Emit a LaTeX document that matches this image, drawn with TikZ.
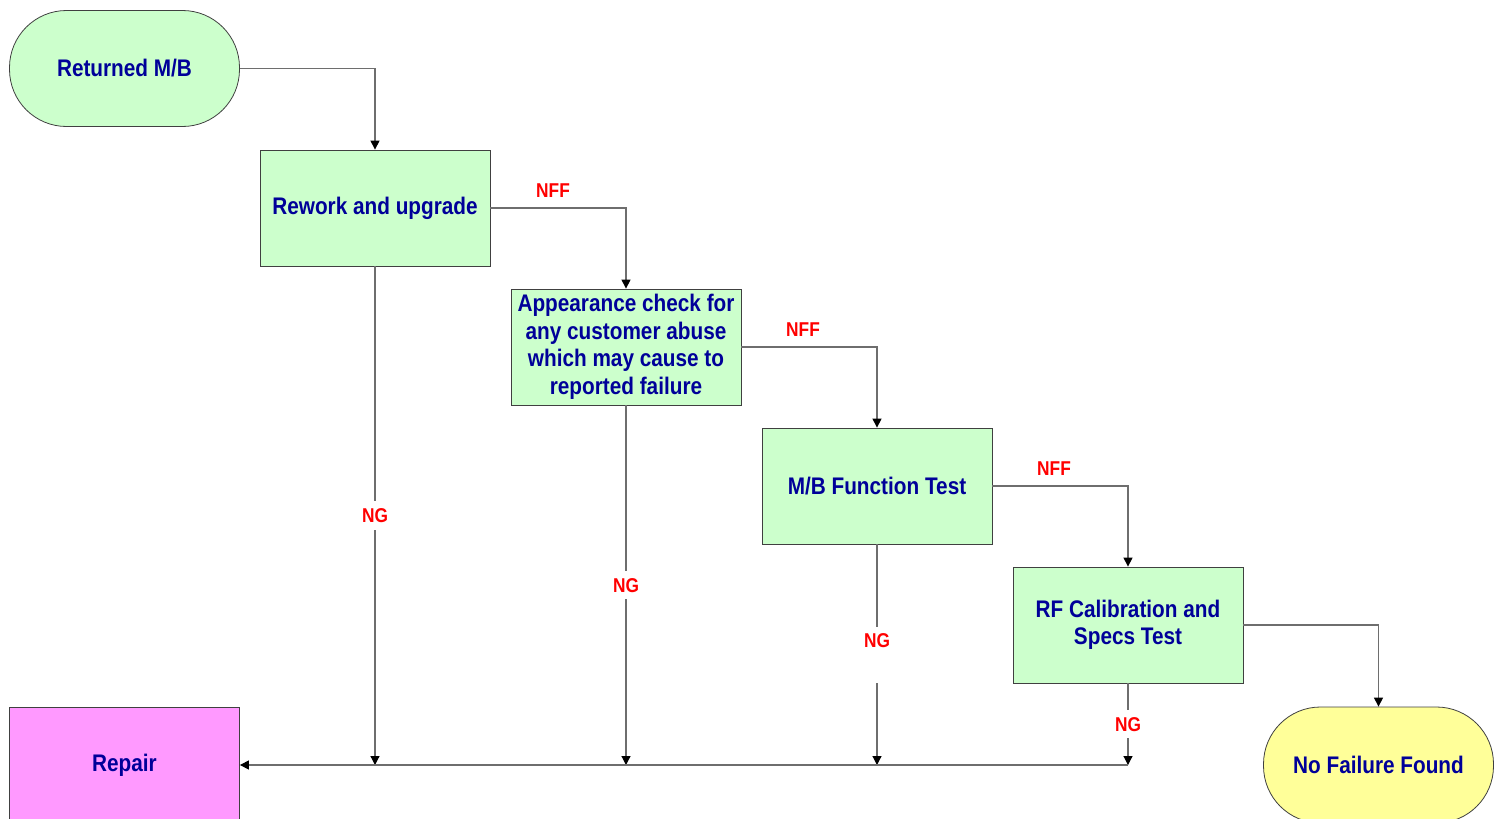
\documentclass[tikz,border=0pt]{standalone}
\usepackage{fontspec}
\setmainfont{Liberation Sans}[FakeStretch=0.865]
\usetikzlibrary{arrows.meta}
\definecolor{boxgreen}{RGB}{204,255,204}
\definecolor{boxpink}{RGB}{255,153,255}
\definecolor{boxyellow}{RGB}{255,255,153}
\definecolor{textblue}{RGB}{0,0,153}
\definecolor{linegray}{RGB}{110,110,110}
\tikzset{
  stepbox/.style={draw=black!75, fill=boxgreen, minimum width=115pt, minimum height=58pt,
    align=center, text=textblue, inner sep=2pt,
    font=\fontsize{12}{13.75}\selectfont\bfseries},
  termbox/.style={stepbox, rounded corners=28.5pt},
  flowln/.style={-{Triangle[length=4.5pt,width=4.5pt,color=black]}, linegray, line width=0.6pt},
  nflabel/.style={text=red, font=\fontsize{10}{11}\selectfont\bfseries},
  nglabel/.style={nflabel, fill=white, inner xsep=1pt, inner ysep=3.6pt},
}

\begin{document}
\begin{tikzpicture}[x=0.5pt,y=-0.5pt]
  \useasboundingbox (0,0) rectangle (1500,819);
  \clip (0,0) rectangle (1500,819);
  % test steps
  \node[termbox] (ret) at (124.5,68.5) {Returned M/B};
  \node[stepbox] (rew) at (375,208) {Rework and upgrade};
  \node[stepbox] (app) at (626,347) {Appearance check for\\any customer abuse\\which may cause to\\reported failure};
  \node[stepbox] (fun) at (877,486) {M/B Function Test};
  \node[stepbox] (rfc) at (1128,625) {RF Calibration and\\Specs Test};
  % outcomes
  \node[stepbox, fill=boxpink] (rep) at (124.5,765) {Repair};
  \node[termbox, fill=boxyellow] (nof) at (1378.5,765) {No Failure Found};
  % NFF path
  \draw[flowln] (ret.east) -| (rew.north);
  \draw[flowln] (rew.east) -| (app.north);
  \draw[flowln] (app.east) -| (fun.north);
  \draw[flowln] (fun.east) -| (rfc.north);
  \draw[flowln] (rfc.east) -| (nof.north);
  \node[nflabel] (nff1) at (553,191) {NFF};
  \node[nflabel] (nff2) at (803,330) {NFF};
  \node[nflabel] (nff3) at (1054,469) {NFF};
  % NG path to repair
  \coordinate (bus) at (rfc.south |- rep.east);
  \draw[flowln] (rew.south) -- node[nglabel] (ng1) {NG} (rew.south |- rep.east);
  \draw[flowln] (app.south) -- node[nglabel] (ng2) {NG} (app.south |- rep.east);
  \draw[flowln] (fun.south) -- node[nglabel, text depth=14pt, inner ysep=3.5pt] (ng3) {NG} (fun.south |- rep.east);
  \draw[flowln] (rfc.south) -- node[nglabel] (ng4) {NG} (bus);
  \draw[flowln] (bus) -- (rep.east);
\end{tikzpicture}
\end{document}
